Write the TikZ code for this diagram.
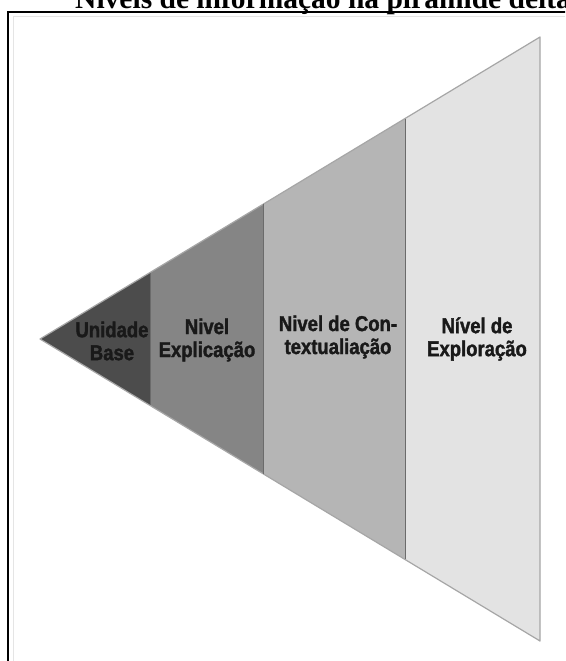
\documentclass[tikz,border=0pt]{standalone}
\usepackage{fontspec}
\setmainfont{Liberation Serif}
\newfontfamily\lblfont[FakeStretch=0.86,FakeBold=1.6]{Liberation Sans}
\begin{document}
\begin{tikzpicture}[x=1pt,y=-1pt,
  lbl/.style={font=\lblfont\bfseries\fontsize{21.5}{23}\selectfont, align=center, inner sep=0pt, text=black!90},
  edgeline/.style={draw=black!35, line width=1.2pt, line join=round},
  divider/.style={draw=black!58, line width=1pt}]
\useasboundingbox (0,0) rectangle (565,661);
\clip (0,0) rectangle (565,661);
\fill[white] (0,0) rectangle (565,661);
% title
\node[anchor=base west, inner sep=0pt, font=\bfseries\fontsize{29.5}{32}\selectfont] (title) at (75,9) {Níveis de informação na pirâmide deitada};
% frame
\draw[black!10, line width=1pt] (13,661) -- (13,17) -- (565,17);
\draw[line width=2pt] (8,661) -- (8,12) -- (566,12);
% geometry
\coordinate (A) at (40,339);
\coordinate (t1) at (150,272.6); \coordinate (b1) at (150,405.4);
\coordinate (t2) at (263,204.3); \coordinate (b2) at (263,473.7);
\coordinate (t3) at (405,118.6); \coordinate (b3) at (405,559.4);
\coordinate (t4) at (540,37);    \coordinate (b4) at (540,641);
\fill[black!70] (A) -- (t1) -- (b1) -- cycle;
\fill[black!48] (t1) -- (t2) -- (b2) -- (b1) -- cycle;
\fill[black!29] (t2) -- (t3) -- (b3) -- (b2) -- cycle;
\fill[black!11] (t3) -- (t4) -- (b4) -- (b3) -- cycle;
\draw[edgeline] (A) -- (t4) -- (b4) -- cycle;
\draw[divider] (t1) -- (b1);
\draw[divider] (t2) -- (b2);
\draw[divider] (t3) -- (b3);
% labels
\node[lbl] (l1) at (112,341) {Unidade\\Base};
\node[lbl] (l2) at (207,340) {Nivel\\Explicação};
\node[lbl] (l3) at (338,337) {Nivel de Con-\\textualiação};
\node[lbl] (l4) at (477,339) {Nível de\\Exploração};
\end{tikzpicture}
\end{document}
